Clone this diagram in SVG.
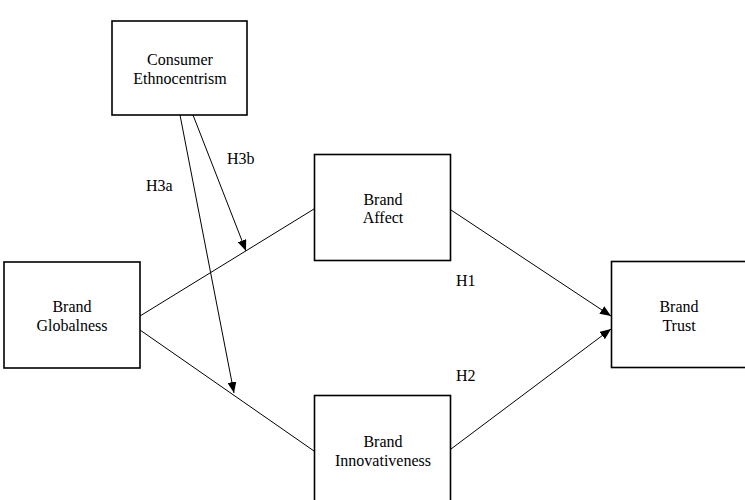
<svg xmlns="http://www.w3.org/2000/svg" width="745" height="500" viewBox="0 0 745 500">
<style>
.box{fill:#fff;stroke:#000;stroke-width:1.6}
.lbl{font-family:"Liberation Serif","Times New Roman",serif;font-size:16px;fill:#000;text-anchor:middle}
.hl{font-family:"Liberation Serif","Times New Roman",serif;font-size:16px;fill:#000}
.con{stroke:#000;stroke-width:1;fill:none}
</style>
<defs>
<marker id="ah" markerWidth="11" markerHeight="9" refX="11" refY="4.5" orient="auto" markerUnits="userSpaceOnUse">
<path d="M0,0 L11,4.5 L0,9 Z" fill="#000"/>
</marker>
</defs>
<rect width="745" height="500" fill="#fff"/>
<g id="connectors">
<line class="con" x1="140" y1="316" x2="314" y2="209"/>
<line class="con" x1="140" y1="330" x2="314" y2="451"/>
<line class="con" x1="451" y1="210" x2="611" y2="316" marker-end="url(#ah)"/>
<line class="con" x1="451" y1="449" x2="611" y2="329" marker-end="url(#ah)"/>
<line class="con" x1="193" y1="115" x2="246" y2="251" marker-end="url(#ah)"/>
<line class="con" x1="180" y1="115" x2="234" y2="393" marker-end="url(#ah)"/>
</g>
<g id="labels">
<text class="hl" x="146" y="191">H3a</text>
<text class="hl" x="227" y="164">H3b</text>
<text class="hl" x="456" y="286">H1</text>
<text class="hl" x="456" y="381">H2</text>
</g>
<g id="consumer-ethnocentrism">
<rect class="box" x="112" y="21" width="135" height="94"/>
<text class="lbl" x="180" y="65">Consumer</text>
<text class="lbl" x="180" y="84">Ethnocentrism</text>
</g>
<g id="brand-globalness">
<rect class="box" x="4" y="262" width="136" height="106"/>
<text class="lbl" x="72" y="312">Brand</text>
<text class="lbl" x="72" y="331">Globalness</text>
</g>
<g id="brand-affect">
<rect class="box" x="314.5" y="154.5" width="136" height="106"/>
<text class="lbl" x="383" y="205">Brand</text>
<text class="lbl" x="383" y="223">Affect</text>
</g>
<g id="brand-innovativeness">
<rect class="box" x="314.5" y="395.5" width="136" height="110"/>
<text class="lbl" x="383" y="447">Brand</text>
<text class="lbl" x="383" y="466">Innovativeness</text>
</g>
<g id="brand-trust">
<rect class="box" x="611.5" y="261.5" width="140" height="106"/>
<text class="lbl" x="679" y="312">Brand</text>
<text class="lbl" x="679" y="331">Trust</text>
</g>
</svg>
